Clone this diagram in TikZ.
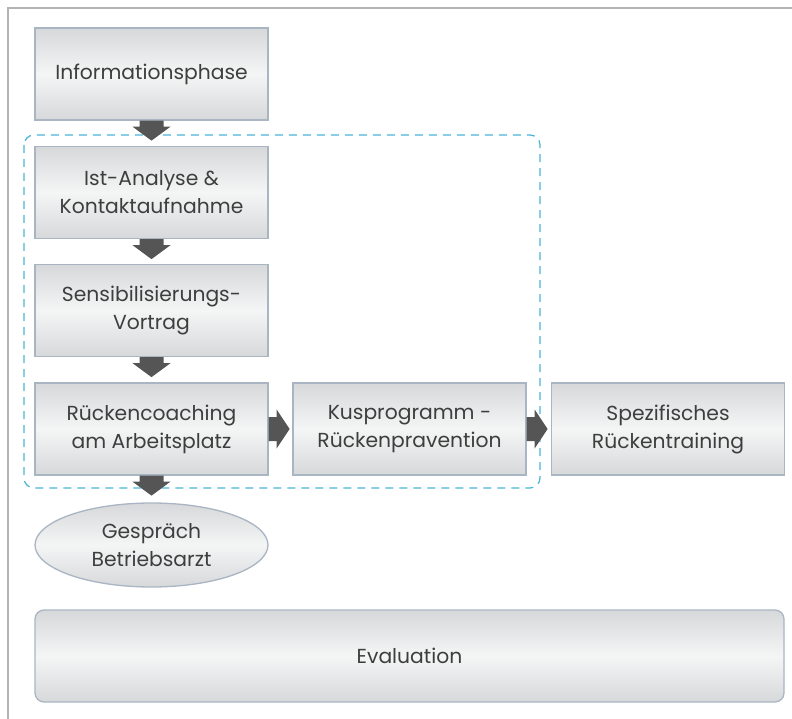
\documentclass[tikz,border=0pt]{standalone}
\usepackage{fontspec}
\setmainfont{Poppins}
\usetikzlibrary{shapes.geometric,calc}
\definecolor{frameg}{HTML}{B3B3B3}
\definecolor{boxedge}{HTML}{A9B5C2}
\definecolor{gdark}{HTML}{D7D8DA}
\definecolor{glight}{HTML}{F4F5F5}
\definecolor{txt}{HTML}{3E3E3E}
\definecolor{arr}{HTML}{555555}
\definecolor{dashb}{HTML}{4AB4D6}
\tikzset{
  stepbox/.style={draw=boxedge, line width=1.3pt, top color=gdark, bottom color=gdark, middle color=glight,
    minimum width=233pt, minimum height=92pt, inner sep=0pt, align=center, text=txt,
    font=\fontsize{20.3}{28}\selectfont},
  ovalbox/.style={stepbox, ellipse, minimum width=233pt, minimum height=84pt},
  evalbox/.style={stepbox, rounded corners=9pt, minimum width=749pt, minimum height=92pt},
  arrfill/.style={fill=arr},
}
\newcommand\darrow[1]{\fill[arrfill] (#1) ++(-12,0) -- ++(0,6) -- ++(-7,0) -- ++(19,14) -- ++(19,-14) -- ++(-7,0) -- ++(0,-6) -- cycle;}
\newcommand\rarrow[1]{\fill[arrfill] (#1) ++(0,-12) -- ++(8,0) -- ++(0,-7.5) -- ++(13,19.5) -- ++(-13,19.5) -- ++(0,-7.5) -- ++(-8,0) -- cycle;}
\begin{document}
\begin{tikzpicture}[x=1pt,y=-1pt]
\useasboundingbox (0,0) rectangle (792,719);
% frame
\draw[frameg, line width=2pt] (8,719) -- (8,8) -- (792,8);
% dashed group
\draw[dashb, line width=1.2pt, dash pattern=on 8pt off 6pt, rounded corners=10pt] (24,135) rectangle (540,488);
% boxes
\node[stepbox] (info) at (151.5,74) {Informationsphase};
\node[stepbox] (ist) at (151.5,192.5) {Ist-Analyse \&\\Kontaktaufnahme};
\node[stepbox] (sens) at (151.5,310.5) {Sensibilisierungs-\\Vortrag};
\node[stepbox] (ruck) at (151.5,429) {Rückencoaching\\am Arbeitsplatz};
\node[stepbox] (kus) at (409.5,429) {Kusprogramm -\\Rückenpravention};
\node[stepbox] (spez) at (668,429) {Spezifisches\\Rückentraining};
\node[ovalbox] (gesp) at (151.5,545) {Gespräch\\Betriebsarzt};
\node[evalbox] (eval) at (409.5,656) {Evaluation};
% arrows
\darrow{info.south}
\darrow{ist.south}
\darrow{sens.south}
\darrow{ruck.south}
\rarrow{ruck.east}
\rarrow{kus.east}
\end{tikzpicture}
\end{document}
